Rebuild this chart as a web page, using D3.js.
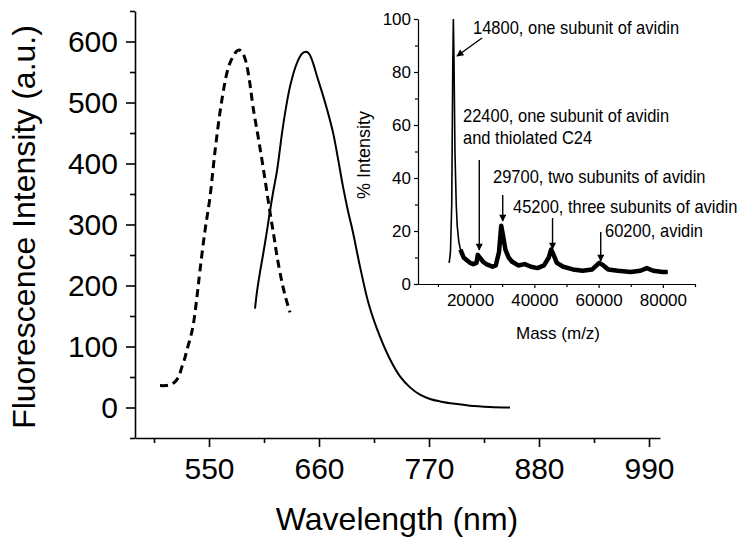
<!DOCTYPE html>
<html>
<head>
<meta charset="utf-8">
<script src="https://cdn.jsdelivr.net/npm/d3@7/dist/d3.min.js"></script>
<style>
  body { margin: 0; background: #fff; }
  svg { display: block; }
  text { font-family: 'Liberation Sans', Arial, sans-serif; fill: #000; }
</style>
</head>
<body>
<svg id="chart" width="746" height="541"></svg>
<script>
'use strict';

// main plot: wavelength (nm) vs fluorescence intensity
var excitation = [
  [501, 36], [507, 36], [512, 38], [516, 42], [520, 52], [523, 67], [526, 82], [528, 95],
  [531, 112], [534, 133], [538, 182], [541, 225], [546, 290], [551, 345], [556, 420],
  [561, 484], [565, 525], [568, 549], [571, 565], [574, 575], [577, 583], [580, 586],
  [583, 583], [586, 572], [588, 559], [591, 530], [594, 493], [599, 445], [604, 395],
  [611, 320], [615, 280], [618, 248], [623, 205], [627, 178], [631, 156]
];
var emission = [
  [596, 162], [598, 190], [601, 222], [604, 250], [608, 290], [611, 322], [614, 352],
  [618, 388], [624, 461], [631, 526], [638, 565], [643, 580], [647, 583], [650, 580],
  [654, 565], [658, 543], [663, 517], [668, 489], [674, 451], [679, 408], [684, 362],
  [689, 322], [694, 287], [701, 231], [710, 168], [721, 116], [731, 79], [741, 51],
  [751, 33], [761, 21], [771, 14], [781, 10], [796, 6], [811, 3], [831, 1], [851, 0]
];
var wlTicks = [550, 660, 770, 880, 990];
var wlMinor = [495, 605, 715, 825, 935];
var intTicks = [0, 100, 200, 300, 400, 500, 600];
var intMinor = [-50, 50, 150, 250, 350, 450, 550, 650];

// inset: mass spectrum
var massSpectrum = [
  [13500, 8], [13900, 12], [14300, 30], [14600, 80], [14800, 100], [15000, 85],
  [15300, 50], [15700, 30], [16000, 22], [16500, 16], [17000, 13], [18000, 10],
  [19000, 9], [20000, 8], [21000, 7.5], [22000, 8], [22400, 11], [23000, 10],
  [24000, 8.5], [25000, 7.5], [26000, 7], [27000, 6.5], [28000, 7], [29000, 12],
  [29700, 22], [30300, 18], [31000, 13], [32000, 10], [33000, 8.5], [35000, 7],
  [37000, 7.5], [39000, 6.5], [41000, 6], [43000, 7], [44500, 10], [45200, 13],
  [46000, 11], [47000, 8], [49000, 6.5], [52000, 5.5], [55000, 5], [58000, 5.5],
  [60200, 8], [61500, 7], [63000, 5.5], [66000, 5], [70000, 4.5], [73000, 5],
  [75000, 6], [77000, 5], [80000, 4.5], [81500, 4.5]
];
var massTicks = [20000, 40000, 60000, 80000];
var massMinor = [10000, 30000, 50000, 70000, 90000];
var pctTicks = [0, 20, 40, 60, 80, 100];
var pctMinor = [10, 30, 50, 70, 90];
var peakLabels = [
  { mass: 14800, lines: ['14800, one subunit of avidin'] },
  { mass: 22400, lines: ['22400, one subunit of avidin', 'and thiolated C24'] },
  { mass: 29700, lines: ['29700, two subunits of avidin'] },
  { mass: 45200, lines: ['45200, three subunits of avidin'] },
  { mass: 60200, lines: ['60200, avidin'] }
];

var svg = d3.select('#chart');
svg.append('rect').attr('width', 746).attr('height', 541).attr('fill', '#fff');

var defs = svg.append('defs');
defs.append('marker')
  .attr('id', 'head')
  .attr('viewBox', '0 0 10 10')
  .attr('refX', 9).attr('refY', 5)
  .attr('markerWidth', 9).attr('markerHeight', 7)
  .attr('markerUnits', 'userSpaceOnUse')
  .attr('orient', 'auto')
  .append('path')
  .attr('d', 'M0,0 L10,5 L0,10 z')
  .attr('fill', '#000');

var x = d3.scaleLinear().domain([476, 1001]).range([135, 660]);
var y = d3.scaleLinear().domain([-50, 650]).range([438, 11]);

function styleAxis (g, size) {
  g.select('.domain').attr('stroke', '#000').attr('stroke-width', 1.6);
  g.selectAll('.tick line').attr('stroke', '#000').attr('stroke-width', 1.6);
  g.selectAll('text').attr('font-size', size).attr('font-family', null);
}

var xAxisG = svg.append('g')
  .attr('transform', 'translate(0,' + y.range()[0] + ')')
  .call(d3.axisBottom(x).tickValues(wlTicks).tickSize(9).tickSizeOuter(0).tickPadding(11));
styleAxis(xAxisG, '30px');
svg.append('g')
  .attr('transform', 'translate(0,' + y.range()[0] + ')')
  .call(d3.axisBottom(x).tickValues(wlMinor).tickSize(5).tickFormat(''))
  .call(function (g) { g.select('.domain').remove(); styleAxis(g, 0); });

var yAxisG = svg.append('g')
  .attr('transform', 'translate(' + x.range()[0] + ',0)')
  .call(d3.axisLeft(y).tickValues(intTicks).tickSize(9).tickSizeOuter(0).tickPadding(8));
styleAxis(yAxisG, '30px');
svg.append('g')
  .attr('transform', 'translate(' + x.range()[0] + ',0)')
  .call(d3.axisLeft(y).tickValues(intMinor).tickSize(5).tickFormat(''))
  .call(function (g) { g.select('.domain').remove(); styleAxis(g, 0); });

svg.append('text')
  .attr('text-anchor', 'middle')
  .attr('font-size', '32px')
  .attr('transform', 'translate(' + [35, 227] + ') rotate(-90)')
  .text('Fluorescence Intensity (a.u.)');

svg.append('text')
  .attr('text-anchor', 'middle')
  .attr('font-size', '32px')
  .attr('x', 397).attr('y', 530)
  .text('Wavelength (nm)');

var line = d3.line()
  .x(function (d) { return x(d[0]); })
  .y(function (d) { return y(d[1]); })
  .curve(d3.curveCatmullRom);

svg.append('path')
  .datum(excitation)
  .attr('d', line)
  .attr('fill', 'none')
  .attr('stroke', '#000')
  .attr('stroke-width', 3)
  .attr('stroke-dasharray', '8,5');

svg.append('path')
  .datum(emission)
  .attr('d', line)
  .attr('fill', 'none')
  .attr('stroke', '#000')
  .attr('stroke-width', 2);

// inset
var mx = d3.scaleLinear().domain([3800, 90000]).range([418, 695]);
var my = d3.scaleLinear().domain([0, 100]).range([284, 19]);
var inset = svg.append('g');

var mxAxisG = inset.append('g')
  .attr('transform', 'translate(0,' + my.range()[0] + ')')
  .call(d3.axisBottom(mx).tickValues(massTicks).tickFormat(d3.format('d'))
    .tickSize(4).tickSizeOuter(0).tickPadding(6));
styleAxis(mxAxisG, '17px');
mxAxisG.selectAll('.domain, .tick line').attr('stroke-width', 1.2);
inset.append('g')
  .attr('transform', 'translate(0,' + my.range()[0] + ')')
  .call(d3.axisBottom(mx).tickValues(massMinor).tickSize(3).tickFormat(''))
  .call(function (g) { g.select('.domain').remove(); styleAxis(g, 0); g.selectAll('line').attr('stroke-width', 1.2); });

var myAxisG = inset.append('g')
  .attr('transform', 'translate(' + mx.range()[0] + ',0)')
  .call(d3.axisLeft(my).tickValues(pctTicks).tickSize(4).tickSizeOuter(0).tickPadding(3));
styleAxis(myAxisG, '17px');
myAxisG.selectAll('.domain, .tick line').attr('stroke-width', 1.2);
inset.append('g')
  .attr('transform', 'translate(' + mx.range()[0] + ',0)')
  .call(d3.axisLeft(my).tickValues(pctMinor).tickSize(3).tickFormat(''))
  .call(function (g) { g.select('.domain').remove(); styleAxis(g, 0); g.selectAll('line').attr('stroke-width', 1.2); });

inset.append('text')
  .attr('text-anchor', 'middle')
  .attr('font-size', '18px')
  .attr('transform', 'translate(' + [370, 155] + ') rotate(-90)')
  .text('% Intensity');

inset.append('text')
  .attr('text-anchor', 'middle')
  .attr('font-size', '17px')
  .attr('x', 558).attr('y', 339)
  .text('Mass (m/z)');

var mline = d3.line()
  .x(function (d) { return mx(d[0]); })
  .y(function (d) { return my(d[1]); });

inset.append('path')
  .datum(massSpectrum)
  .attr('d', mline)
  .attr('fill', 'none')
  .attr('stroke', '#000')
  .attr('stroke-width', 1.6);

// noisy band after the main peak
inset.append('path')
  .datum(massSpectrum.filter(function (d) { return d[0] >= 17000; }))
  .attr('d', mline)
  .attr('fill', 'none')
  .attr('stroke', '#000')
  .attr('stroke-width', 4.5)
  .attr('stroke-linejoin', 'round');

// label positions in px, arrows either slanted (first) or vertical at the peak mass
var labelPos = {
  14800: { tx: 473, ty: 34, from: [482, 38], to: [457, 56] },
  22400: { tx: 463, ty: 122, from: null, to: null },
  29700: { tx: 493, ty: 183, from: null, to: null },
  45200: { tx: 513, ty: 213, from: null, to: null },
  60200: { tx: 605, ty: 237, from: null, to: null }
};
var arrowSpan = { 22400: [160, 250], 29700: [195, 221], 45200: [218, 249], 60200: [232, 261] };

peakLabels.forEach(function (p) {
  var pos = labelPos[p.mass];
  var t = inset.append('text')
    .attr('font-size', '17px')
    .attr('transform', 'translate(' + [pos.tx, pos.ty] + ') scale(0.97,1.12)');
  p.lines.forEach(function (l, i) {
    t.append('tspan').attr('x', 0).attr('dy', i === 0 ? 0 : 19.5).text(l);
  });
  var from, to;
  if (pos.from) {
    from = pos.from; to = pos.to;
  } else {
    var ax = mx(p.mass) + 1.5;
    from = [ax, arrowSpan[p.mass][0]];
    to = [ax, arrowSpan[p.mass][1]];
  }
  inset.append('line')
    .attr('x1', from[0]).attr('y1', from[1])
    .attr('x2', to[0]).attr('y2', to[1])
    .attr('stroke', '#000')
    .attr('stroke-width', 1.4)
    .attr('marker-end', 'url(#head)');
});
</script>
</body>
</html>
